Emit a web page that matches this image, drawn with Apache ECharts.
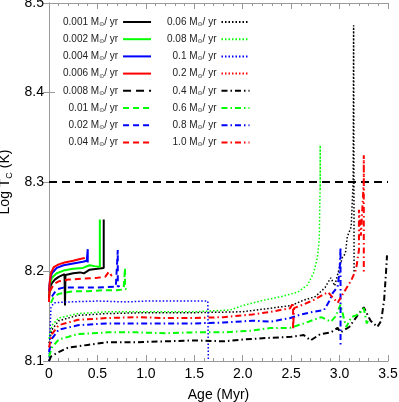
<!DOCTYPE html>
<html>
<head>
<meta charset="utf-8">
<script src="https://cdn.jsdelivr.net/npm/echarts@6/dist/echarts.min.js"></script>
<style>
  html, body { margin: 0; padding: 0; background: #fff; }
  #chart { width: 399px; height: 402px; }
</style>
</head>
<body>
<div id="chart"></div>
<script>
// accretion rates (Msun / yr), legend order
var rates = ['0.001', '0.002', '0.004', '0.006', '0.008', '0.01', '0.02', '0.04',
             '0.06', '0.08', '0.1', '0.2', '0.4', '0.6', '0.8', '1.0'];

// axis ticks
var xTicks = [0, 0.5, 1.0, 1.5, 2.0, 2.5, 3.0, 3.5];
var yTicks = [8.1, 8.2, 8.3, 8.4, 8.5];

// tracks: [age (Myr), log Tc]
var t0001 = [[0.0,8.170],[0.01,8.182],[0.03,8.187],[0.06,8.191],[0.1,8.194],[0.16,8.197],[0.165,8.162],[0.17,8.196],
  [0.25,8.198],[0.32,8.199],[0.36,8.198],[0.42,8.202],[0.5,8.203],[0.565,8.204],[0.565,8.258]];
var t0002 = [[0.0,8.175],[0.01,8.186],[0.03,8.193],[0.08,8.198],[0.15,8.201],[0.25,8.203],[0.35,8.204],[0.42,8.207],
  [0.47,8.206],[0.525,8.205],[0.525,8.258]];
var t0004 = [[0.0,8.178],[0.01,8.190],[0.03,8.198],[0.08,8.204],[0.15,8.207],[0.25,8.209],[0.35,8.211],[0.39,8.212],
  [0.40,8.225],[0.40,8.210]];
var t0006 = [[0.0,8.166],[0.005,8.185],[0.02,8.198],[0.05,8.205],[0.1,8.208],[0.16,8.210],[0.25,8.212],[0.32,8.214],[0.37,8.215]];
var t0008 = [[0.0,8.3],[3.5,8.3]];
var t001 = [[0.02,8.165],[0.05,8.172],[0.1,8.175],[0.2,8.177],[0.26,8.178],[0.4,8.178],[0.55,8.179],[0.7,8.179],
  [0.77,8.180],[0.785,8.204],[0.785,8.181],[0.8,8.180]];
var t002 = [[0.03,8.172],[0.08,8.180],[0.15,8.182],[0.3,8.182],[0.5,8.182],[0.69,8.183],[0.71,8.224],[0.71,8.183],[0.73,8.184]];
var t004 = [[0.01,8.178],[0.05,8.186],[0.1,8.189],[0.2,8.191],[0.35,8.192],[0.5,8.193],[0.58,8.194],[0.62,8.200],
  [0.64,8.196],[0.65,8.195]];
var t006 = [[0.0,8.120],[0.03,8.135],[0.1,8.145],[0.3,8.151],[0.6,8.153],[1.0,8.154],[1.5,8.154],[2.0,8.155],[2.29,8.159],
  [2.5,8.162],[2.63,8.168],[2.75,8.172],[2.85,8.182],[2.91,8.193],[2.95,8.184],[3.0,8.205],[3.03,8.216],[3.06,8.220],
  [3.08,8.239],[3.12,8.250],[3.14,8.300],[3.145,8.475],[3.15,8.200]];
var t008 = [[0.0,8.125],[0.03,8.140],[0.1,8.148],[0.3,8.153],[0.6,8.155],[1.0,8.155],[1.5,8.155],[1.87,8.157],[2.0,8.162],
  [2.22,8.168],[2.4,8.172],[2.57,8.177],[2.67,8.185],[2.73,8.198],[2.77,8.215],[2.79,8.235],[2.8,8.300],[2.8,8.341],[2.8,8.290]];
var t01 = [[0.0,8.100],[0.01,8.130],[0.02,8.160],[0.05,8.165],[0.2,8.166],[0.5,8.167],[0.8,8.166],[1.0,8.167],[1.3,8.167],
  [1.5,8.167],[1.64,8.167],[1.645,8.100]];
var t02 = [];
var t04 = [[0.0,8.100],[0.02,8.105],[0.1,8.110],[0.2,8.115],[0.4,8.118],[0.6,8.121],[0.9,8.121],[1.2,8.122],[1.5,8.123],
  [1.8,8.122],[2.0,8.124],[2.29,8.126],[2.5,8.127],[2.63,8.129],[2.7,8.123],[2.8,8.130],[2.91,8.132],[2.98,8.137],
  [3.01,8.132],[3.1,8.138],[3.18,8.150],[3.25,8.160],[3.32,8.145],[3.39,8.138],[3.43,8.145],[3.46,8.168],[3.48,8.200],[3.49,8.218]];
var t06 = [[0.0,8.105],[0.03,8.115],[0.1,8.124],[0.3,8.130],[0.6,8.132],[0.9,8.132],[1.2,8.131],[1.5,8.132],[1.8,8.132],
  [2.1,8.134],[2.29,8.137],[2.49,8.137],[2.63,8.142],[2.81,8.149],[2.91,8.144],[2.96,8.150],[3.01,8.163],[3.05,8.145],
  [3.07,8.138],[3.12,8.149],[3.17,8.151],[3.22,8.155],[3.25,8.159],[3.28,8.142],[3.3,8.146]];
var t08 = [[0.0,8.110],[0.03,8.125],[0.1,8.135],[0.3,8.140],[0.6,8.142],[0.9,8.142],[1.2,8.142],[1.5,8.142],[1.8,8.143],
  [2.1,8.145],[2.29,8.144],[2.49,8.148],[2.6,8.152],[2.73,8.155],[2.84,8.157],[2.9,8.168],[2.93,8.176],[2.98,8.183],
  [3.0,8.200],[3.01,8.227],[3.01,8.116]];
var t10 = [[0.0,8.115],[0.03,8.130],[0.1,8.140],[0.3,8.146],[0.6,8.148],[0.9,8.149],[1.2,8.148],[1.5,8.148],[1.8,8.149],
  [2.1,8.152],[2.29,8.155],[2.49,8.159],[2.52,8.165],[2.52,8.135],[2.53,8.159],[2.6,8.162],[2.73,8.168],[2.88,8.177],
  [2.98,8.165],[3.04,8.176],[3.12,8.190],[3.17,8.202],[3.2,8.224],[3.2,8.269],[3.22,8.240],[3.24,8.280],[3.25,8.302],
  [3.25,8.330],[3.25,8.200]];

var tracks = [t0001, t0002, t0004, t0006, t0008, t001, t002, t004, t006, t008, t01, t02, t04, t06, t08, t10];

var colors = ['#000000', '#00ff00', '#0000ff', '#ff0000'];
var dashes = ['solid', [6, 4], [1.5, 2], [6, 3, 1.5, 3]];
var widths = [2, 2, 1.5, 2];

var chart = echarts.init(document.getElementById('chart'));

var series = [];
for (var i = 0; i < rates.length; i++) {
  var g = Math.floor(i / 4);
  series.push({
    name: rates[i],
    type: 'line',
    data: tracks[i],
    showSymbol: false,
    symbol: 'none',
    animation: false,
    lineStyle: {
      color: colors[i % 4],
      width: i == 4 ? 2 : widths[g],
      type: i == 4 ? [8, 5] : dashes[g]
    },
    itemStyle: { color: colors[i % 4] }
  });
}

function legendFmt(n) {
  return '{n|' + n + ' M}{s|\u2299}{n|/ yr}';
}

var legendText = {
  fontSize: 10,
  fontFamily: 'Liberation Sans, Arial, sans-serif',
  color: '#222',
  width: 54,
  rich: {
    n: { fontSize: 10, fontFamily: 'Liberation Sans, Arial, sans-serif', color: '#222' },
    s: { fontSize: 6, fontFamily: 'DejaVu Sans', color: '#222', padding: [5, 0, 0, 0] }
  }
};

var axisFont = { fontSize: 14, fontFamily: 'Liberation Sans, Arial, sans-serif', color: '#000' };
var frame = { show: true, lineStyle: { color: '#999', width: 1 } };

function legendBox(names, left) {
  return {
    data: names,
    orient: 'vertical', left: left, top: 17, padding: 0,
    align: 'right', itemWidth: 28, itemHeight: 8, itemGap: 6.7,
    selectedMode: false, formatter: legendFmt, textStyle: legendText,
    itemStyle: { color: 'transparent', borderWidth: 0, opacity: 0 }
  };
}

var option = {
  animation: false,
  grid: { left: 49, right: 11, top: 3, bottom: 41, containLabel: false, outerBoundsMode: 'none' },
  legend: [legendBox(rates.slice(0, 8), 63), legendBox(rates.slice(8), 167)],
  xAxis: [{
    type: 'value', min: xTicks[0], max: xTicks[xTicks.length - 1], interval: 0.5,
    position: 'bottom',
    name: 'Age (Myr)', nameLocation: 'middle', nameGap: 27,
    nameTextStyle: axisFont,
    axisLine: frame,
    axisTick: { show: true, inside: true, length: 6, lineStyle: { color: '#999' } },
    minorTick: { show: true, splitNumber: 5, length: 3, lineStyle: { color: '#999' } },
    splitLine: { show: false },
    axisLabel: { formatter: function (v) { return v == 0 ? '0' : v.toFixed(1); }, margin: 6, fontSize: 14,
      fontFamily: 'Liberation Sans, Arial, sans-serif', color: '#000' }
  }, {
    type: 'value', min: xTicks[0], max: xTicks[xTicks.length - 1], interval: 0.5,
    position: 'top',
    axisLine: frame,
    axisTick: { show: true, inside: true, length: 6, lineStyle: { color: '#999' } },
    minorTick: { show: true, splitNumber: 5, length: 3, lineStyle: { color: '#999' } },
    splitLine: { show: false },
    axisLabel: { show: false }
  }],
  yAxis: [{
    type: 'value', min: yTicks[0], max: yTicks[yTicks.length - 1], interval: 0.1,
    position: 'left',
    name: '{n|Log T}{s|C}{n| (K)}', nameLocation: 'middle', nameGap: 34,
    nameTextStyle: {
      fontSize: 14, fontFamily: 'Liberation Sans, Arial, sans-serif', color: '#000',
      rich: {
        n: { fontSize: 14, fontFamily: 'Liberation Sans, Arial, sans-serif', color: '#000' },
        s: { fontSize: 9, fontFamily: 'Liberation Sans, Arial, sans-serif', color: '#000', padding: [8, 0, 0, 0] }
      }
    },
    axisLine: frame,
    axisTick: { show: true, inside: true, length: 6, lineStyle: { color: '#999' } },
    splitLine: { show: false },
    axisLabel: { formatter: function (v) { return v.toFixed(1); }, margin: 5, fontSize: 14,
      fontFamily: 'Liberation Sans, Arial, sans-serif', color: '#000' }
  }, {
    type: 'value', min: yTicks[0], max: yTicks[yTicks.length - 1], interval: 0.1,
    position: 'right',
    axisLine: frame,
    axisTick: { show: true, inside: true, length: 6, lineStyle: { color: '#999' } },
    splitLine: { show: false },
    axisLabel: { show: false }
  }],
  series: series
};

chart.setOption(option);
</script>
</body>
</html>
